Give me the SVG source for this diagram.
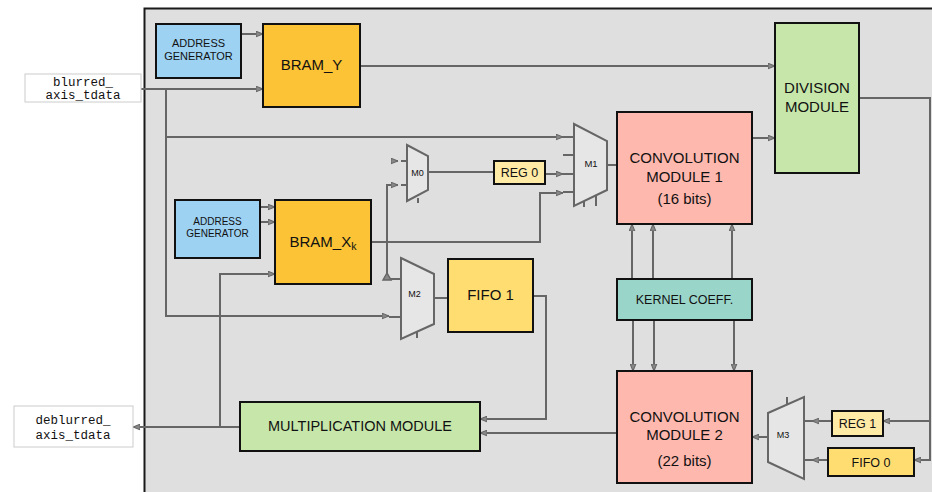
<svg xmlns="http://www.w3.org/2000/svg" width="932" height="492" viewBox="0 0 932 492">
<style>
.box{stroke:#111;stroke-width:2}
.io{fill:#fff;stroke:#ccc;stroke-width:1}
.mux{fill:#e6e6e6;stroke:#666;stroke-width:2}
.w{fill:none;stroke:#666;stroke-width:2}
.a{fill:none;stroke:#666;stroke-width:2;marker-end:url(#arr)}
.t{font-family:"Liberation Sans",Arial,sans-serif;fill:#111;text-anchor:middle}
.m{font-family:"Liberation Mono","Courier New",monospace;font-size:12.5px;fill:#111;text-anchor:middle}
</style>
<defs>
<marker id="arr" viewBox="0 0 10 10" refX="10" refY="5" markerUnits="userSpaceOnUse" markerWidth="7" markerHeight="7" orient="auto">
<path d="M0,1 L10,5 L0,9 z" fill="#888" stroke="#666" stroke-width="1.5"/>
</marker>
</defs>
<rect x="0" y="0" width="932" height="492" fill="#fff"/>
<rect id="frame" x="144.5" y="8.5" width="800" height="500" fill="#dfdfdf" stroke="#1a1a1a" stroke-width="2"/>

<g id="connectors">
<path class="a" d="M141,89 H263"/>
<path class="a" d="M166,89 V316 H389"/>
<path class="a" d="M166,137 H563"/>
<path class="a" d="M241,34 H263"/>
<path class="a" d="M360,66 H775"/>
<path class="a" d="M752,138 H775"/>
<path class="a" d="M859,98 H930 V460 H914"/>
<path class="a" d="M930,421 H883"/>
<path class="a" d="M832,421 H812"/>
<path class="a" d="M828,460 H812"/>
<path class="a" d="M768,437 H752"/>
<path class="a" d="M632,279 V224"/>
<path class="a" d="M653,279 V224"/>
<path class="a" d="M732,279 V224"/>
<path class="a" d="M633,320 V371"/>
<path class="a" d="M654,320 V371"/>
<path class="a" d="M734,320 V371"/>
<path class="a" d="M617,433 H480"/>
<path class="a" d="M533,296 H546 V419 H480"/>
<path class="a" d="M240,427 H133"/>
<path class="a" d="M220,427 V274 H275"/>
<path class="a" d="M260,207 H275"/>
<path class="a" d="M260,222 H275"/>
<path class="a" d="M371,242 H540 V193 H563"/>
<path class="a" d="M401,279 H387 V185 H398"/>
<path d="M383,280 L387,273 L391,280 z" fill="#888" stroke="#666" stroke-width="1.5"/>
<path class="a" d="M393,161 H398"/>
<path class="w" d="M428,172 H494"/>
<path class="a" d="M545,174 H563"/>
<path class="w" d="M607,165 H617"/>
<path class="w" d="M434,298 H448"/>
</g>

<g id="blurred_input">
<rect class="io" x="25" y="74" width="116" height="28"/>
<text class="m" x="83" y="85.5">blurred_</text>
<text class="m" x="83" y="99">axis_tdata</text>
</g>
<g id="deblurred_output">
<rect class="io" x="14" y="406" width="119" height="41"/>
<text class="m" x="73" y="424">deblurred_</text>
<text class="m" x="73" y="439">axis_tdata</text>
</g>

<g id="addr_gen_1">
<rect class="box" x="156" y="24" width="85" height="54" fill="#9dd2f3"/>
<text class="t" x="198.5" y="47" font-size="11px">ADDRESS</text>
<text class="t" x="198.5" y="60" font-size="11px">GENERATOR</text>
</g>
<g id="bram_y">
<rect class="box" x="263" y="24" width="97" height="83" fill="#fbc335"/>
<text class="t" x="311.5" y="69.5" font-size="15px">BRAM_Y</text>
</g>
<g id="division">
<rect class="box" x="775" y="23" width="84" height="150" fill="#c6e6aa"/>
<text class="t" x="817" y="92.5" font-size="15px">DIVISION</text>
<text class="t" x="817" y="111.5" font-size="15px">MODULE</text>
</g>
<g id="addr_gen_2">
<rect class="box" x="175" y="200" width="85" height="58" fill="#9dd2f3"/>
<text class="t" x="217.5" y="225" font-size="10px">ADDRESS</text>
<text class="t" x="217.5" y="237" font-size="10px">GENERATOR</text>
</g>
<g id="bram_xk">
<rect class="box" x="275" y="200" width="96" height="84" fill="#fbc335"/>
<text class="t" x="323" y="247" font-size="15px">BRAM_X<tspan font-size="10.5px" dy="3">k</tspan></text>
</g>
<g id="m0">
<path class="w" d="M401,161 H407 M401,185 H407 M418,198 V203"/>
<path class="mux" d="M407,145 L428,156 L428,190 L407,201 z"/>
<text class="t" x="417.5" y="175.5" font-size="9px">M0</text>
</g>
<g id="reg0">
<rect class="box" x="494" y="161" width="51" height="23" fill="#ffeaa6"/>
<text class="t" x="519.5" y="177" font-size="12.5px">REG 0</text>
</g>
<g id="m1">
<path class="w" d="M563,137 H574 M563,155 H574 M563,174 H574 M563,192 H574 M584,200 V207 M596,195 V206"/>
<path class="mux" d="M574,124 L607,141 L607,190 L574,206 z"/>
<text class="t" x="591" y="166.5" font-size="9.5px">M1</text>
</g>
<g id="m2">
<path class="w" d="M389,317 H401 M417,331 V338"/>
<path class="mux" d="M401,258 L434,274 L434,324 L401,339 z"/>
<text class="t" x="414.5" y="296.5" font-size="9px">M2</text>
</g>
<g id="fifo1">
<rect class="box" x="448" y="259" width="85" height="73" fill="#ffdd71"/>
<text class="t" x="490.5" y="299.5" font-size="15px">FIFO 1</text>
</g>
<g id="conv1">
<rect class="box" x="617" y="112" width="135" height="112" fill="#ffb8ae"/>
<text class="t" x="684.5" y="162.5" font-size="15px">CONVOLUTION</text>
<text class="t" x="684.5" y="181.5" font-size="15px">MODULE 1</text>
<text class="t" x="684.5" y="204" font-size="15px">(16 bits)</text>
</g>
<g id="kernel">
<rect class="box" x="617" y="279" width="135" height="41" fill="#9ad5ca"/>
<text class="t" x="684.5" y="303.5" font-size="12.5px">KERNEL COEFF.</text>
</g>
<g id="conv2">
<rect class="box" x="617" y="371" width="135" height="112" fill="#ffb8ae"/>
<text class="t" x="684.5" y="421.5" font-size="15px">CONVOLUTION</text>
<text class="t" x="684.5" y="439.5" font-size="15px">MODULE 2</text>
<text class="t" x="684.5" y="466" font-size="15px">(22 bits)</text>
</g>
<g id="m3">
<path class="w" d="M804,421 H812 M804,460 H812 M787,397 V405"/>
<path class="mux" d="M768,413 L804,397 L804,479 L768,462 z"/>
<text class="t" x="783" y="437.5" font-size="9px">M3</text>
</g>
<g id="reg1">
<rect class="box" x="832" y="411" width="51" height="25" fill="#ffeaa6"/>
<text class="t" x="857.5" y="427.5" font-size="12.5px">REG 1</text>
</g>
<g id="fifo0">
<rect class="box" x="828" y="448" width="86" height="28" fill="#ffdd71"/>
<text class="t" x="871" y="466.5" font-size="12.5px">FIFO 0</text>
</g>
<g id="multiplication">
<rect class="box" x="240" y="402" width="240" height="49" fill="#c6e6aa"/>
<text class="t" x="360" y="431" font-size="14.5px">MULTIPLICATION MODULE</text>
</g>
</svg>
